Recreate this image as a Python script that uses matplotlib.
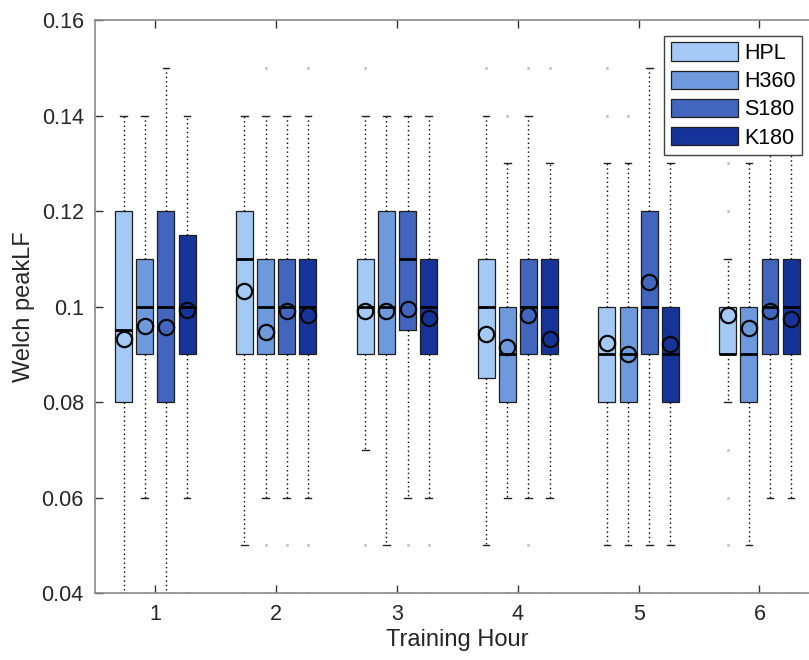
"""
plot.py — Welch peakLF par heure d'entrainement (boxplots groupes).
"""

import numpy as np
import matplotlib
matplotlib.use('Agg')
import matplotlib.pyplot as plt
from matplotlib.patches import Patch

plt.rcParams['font.family'] = ['Liberation Sans', 'DejaVu Sans']

HOURS = [1, 2, 3, 4, 5, 6]
GROUPS = ['HPL', 'H360', 'S180', 'K180']
COLORS = {'HPL': '#a5c9f5', 'H360': '#6f99dd', 'S180': '#4265be', 'K180': '#163399'}

# ── Valeurs (une valeur par heure) ────────────────────────────────────────────
HPL_Q1   = [0.08, 0.09, 0.09, 0.085, 0.08, 0.09]
HPL_MED  = [0.095, 0.11, 0.10, 0.10, 0.09, 0.09]
HPL_Q3   = [0.12, 0.12, 0.11, 0.11, 0.10, 0.10]
HPL_LO   = [0.04, 0.05, 0.07, 0.05, 0.05, 0.08]
HPL_HI   = [0.14, 0.14, 0.14, 0.14, 0.13, 0.11]
HPL_MEAN = [0.0932, 0.1033, 0.0990, 0.0942, 0.0924, 0.0982]
HPL_OUT  = [[], [0.04], [0.15, 0.05, 0.04], [0.15, 0.04], [0.15, 0.14, 0.04],
            [0.13, 0.12, 0.07, 0.06, 0.05, 0.04]]

H360_Q1   = [0.09, 0.09, 0.09, 0.08, 0.08, 0.08]
H360_MED  = [0.10, 0.10, 0.10, 0.09, 0.09, 0.09]
H360_Q3   = [0.11, 0.11, 0.12, 0.10, 0.10, 0.10]
H360_LO   = [0.06, 0.06, 0.05, 0.06, 0.05, 0.05]
H360_HI   = [0.14, 0.14, 0.14, 0.13, 0.13, 0.13]
H360_MEAN = [0.0959, 0.0946, 0.0990, 0.0915, 0.0900, 0.0956]
H360_OUT  = [[0.04], [0.15, 0.05, 0.04], [0.04], [0.14, 0.04], [0.14, 0.04], [0.04]]

S180_Q1   = [0.08, 0.09, 0.095, 0.09, 0.09, 0.09]
S180_MED  = [0.10, 0.10, 0.11, 0.10, 0.10, 0.10]
S180_Q3   = [0.12, 0.11, 0.12, 0.11, 0.12, 0.11]
S180_LO   = [0.04, 0.06, 0.06, 0.06, 0.05, 0.06]
S180_HI   = [0.15, 0.14, 0.14, 0.14, 0.15, 0.14]
S180_MEAN = [0.0957, 0.0990, 0.0994, 0.0982, 0.1052, 0.0990]
S180_OUT  = [[], [0.05, 0.04], [0.05, 0.04], [0.15, 0.05, 0.04], [0.04], [0.04]]

K180_Q1   = [0.09, 0.09, 0.09, 0.09, 0.08, 0.09]
K180_MED  = [0.10, 0.10, 0.10, 0.10, 0.09, 0.10]
K180_Q3   = [0.115, 0.11, 0.11, 0.11, 0.10, 0.11]
K180_LO   = [0.06, 0.06, 0.06, 0.06, 0.05, 0.06]
K180_HI   = [0.14, 0.14, 0.14, 0.13, 0.13, 0.14]
K180_MEAN = [0.0992, 0.0983, 0.0975, 0.0931, 0.0921, 0.0973]
K180_OUT  = [[0.04], [0.15, 0.05, 0.04], [0.05, 0.04], [0.15, 0.04], [0.04], [0.04]]

DATA = {
    'HPL':  (HPL_Q1, HPL_MED, HPL_Q3, HPL_LO, HPL_HI, HPL_MEAN, HPL_OUT),
    'H360': (H360_Q1, H360_MED, H360_Q3, H360_LO, H360_HI, H360_MEAN, H360_OUT),
    'S180': (S180_Q1, S180_MED, S180_Q3, S180_LO, S180_HI, S180_MEAN, S180_OUT),
    'K180': (K180_Q1, K180_MED, K180_Q3, K180_LO, K180_HI, K180_MEAN, K180_OUT),
}

OFFSETS = [-0.2625, -0.0875, 0.0875, 0.2625]
BOX_W = 0.14

fig = plt.figure(figsize=(8.09, 6.60), dpi=100)
ax = fig.add_axes([0.1174, 0.1015, 0.896, 0.8682])

for g, off in zip(GROUPS, OFFSETS):
    q1, med, q3, lo, hi, mean, out = DATA[g]
    stats = []
    for i in range(len(HOURS)):
        stats.append({'q1': q1[i], 'med': med[i], 'q3': q3[i],
                      'whislo': lo[i], 'whishi': hi[i], 'fliers': out[i]})
    pos = [h + off for h in HOURS]
    ax.bxp(stats, positions=pos, widths=BOX_W, patch_artist=True,
           capwidths=0.055, manage_ticks=False,
           boxprops=dict(facecolor=COLORS[g], edgecolor='#1e1e1e', linewidth=0.9),
           medianprops=dict(color='k', linewidth=2),
           whiskerprops=dict(color='k', linewidth=1, linestyle=(0, (1, 2.2))),
           capprops=dict(color='#222222', linewidth=1),
           flierprops=dict(marker='.', markersize=2.5, markerfacecolor='#c6c6c6',
                           markeredgecolor='#c6c6c6'))
    ax.plot(pos, mean, linestyle='none', marker='o', markersize=11,
            markerfacecolor='none', markeredgecolor='#0a0a0a', markeredgewidth=1.6,
            zorder=5)

ax.set_xlim(0.5, 6.5)
ax.set_ylim(0.04, 0.16)
ax.set_xticks(HOURS)
ax.set_xticklabels([str(h) for h in HOURS])
ax.set_yticks([0.04, 0.06, 0.08, 0.1, 0.12, 0.14, 0.16])
ax.set_yticklabels(['0.04', '0.06', '0.08', '0.1', '0.12', '0.14', '0.16'])
ax.tick_params(direction='in', length=6, width=1, color='#333333',
               top=True, right=True, labelsize=15.5, pad=8, labelcolor='#262626')
for sp in ax.spines.values():
    sp.set_color('#8a8a8a')
    sp.set_linewidth(1.2)

ax.set_xlabel('Training Hour', fontsize=17, color='#262626', labelpad=3)
ax.set_ylabel('Welch peakLF', fontsize=17, color='#262626', labelpad=5)

handles = [Patch(facecolor=COLORS[g], edgecolor='#1e1e1e', linewidth=0.9, label=g)
           for g in GROUPS]
leg = ax.legend(handles=handles, loc='upper right', bbox_to_anchor=(802 / 809, 1 - 36 / 660),
                bbox_transform=fig.transFigure, borderaxespad=0, fontsize=15.5,
                handlelength=3.1, handleheight=0.95, handletextpad=0.3,
                labelspacing=0.3, borderpad=0.3, fancybox=False, framealpha=1)
leg.get_frame().set_edgecolor('#404040')
leg.get_frame().set_linewidth(1.0)

plt.savefig('out.png', dpi=100)
